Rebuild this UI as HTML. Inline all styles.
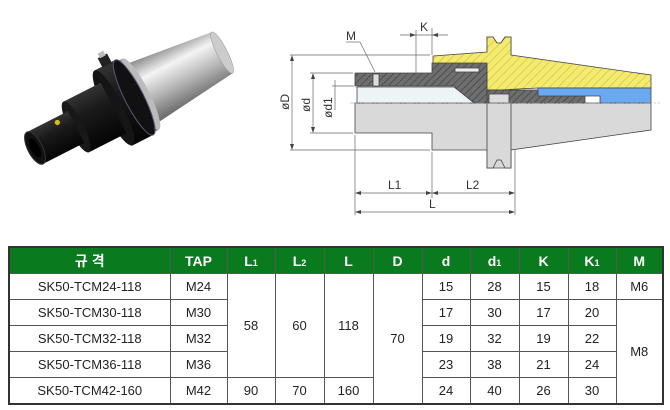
<!DOCTYPE html>
<html><head><meta charset="utf-8"><style>
body{margin:0;background:#fff;width:670px;height:410px;overflow:hidden;font-family:"Liberation Sans","Noto Sans CJK KR",sans-serif;}
svg{position:absolute;left:0;top:0}
table{position:absolute;left:8px;top:246px;border-collapse:collapse;table-layout:fixed;width:654px;font-size:13px;color:#222}
td,th{border:1px solid #555;text-align:center;padding:0;height:25px}
th{background:#0a7a1f;color:#fff;font-weight:bold;height:25px;font-size:14px}
table{border:2px solid #333}
sub{font-size:9px;vertical-align:baseline}
</style></head><body>
<svg width="670" height="240" viewBox="0 0 670 240">
<defs>
<pattern id="h" width="5" height="5" patternUnits="userSpaceOnUse" patternTransform="rotate(45)"><rect width="5" height="5" fill="#6e6e6e"/><line x1="0" y1="0" x2="0" y2="5" stroke="#3a3a3a" stroke-width="1.2"/></pattern>
<pattern id="y" width="6" height="6" patternUnits="userSpaceOnUse" patternTransform="rotate(45)"><rect width="6" height="6" fill="#f3ea6e"/><line x1="0" y1="0" x2="0" y2="6" stroke="#b3a83a" stroke-width="0.8"/></pattern>
<linearGradient id="sv" x1="0" y1="0" x2="0" y2="1"><stop offset="0" stop-color="#888"/><stop offset="0.3" stop-color="#f4f4f4"/><stop offset="0.6" stop-color="#bbb"/><stop offset="1" stop-color="#666"/></linearGradient>
<linearGradient id="bk" x1="0" y1="0" x2="0" y2="1"><stop offset="0" stop-color="#333"/><stop offset="0.35" stop-color="#1a1a1a"/><stop offset="1" stop-color="#050505"/></linearGradient>
</defs>
<g transform="translate(35,148) rotate(-27) scale(1.05)">
<path d="M112,-32 L200,-22 L200,22 L112,32 Z" fill="url(#sv)"/>
<ellipse cx="200" cy="0" rx="5" ry="22" fill="#ccc" stroke="#999" stroke-width="0.5"/>
<rect x="104" y="-38" width="9" height="76" fill="url(#sv)"/>
<ellipse cx="113" cy="0" rx="8" ry="38" fill="#bbb"/>
<rect x="84" y="-40" width="22" height="80" fill="url(#bk)"/>
<ellipse cx="106" cy="0" rx="9" ry="40" fill="#111" stroke="#557" stroke-width="1"/>
<rect x="92" y="-49" width="10" height="10" fill="#222"/>
<rect x="94" y="-53" width="6" height="5" fill="#bbb"/>
<ellipse cx="84" cy="0" rx="9" ry="40" fill="#151515"/>
<rect x="44" y="-27" width="40" height="54" fill="url(#bk)"/>
<ellipse cx="44" cy="0" rx="7" ry="27" fill="#181818"/>
<rect x="0" y="-17" width="44" height="34" fill="url(#bk)"/>
<ellipse cx="0" cy="0" rx="7" ry="17" fill="#111" stroke="#333"/>
<ellipse cx="0" cy="0" rx="4" ry="10" fill="#000"/>
<circle cx="30" cy="-12" r="2.5" fill="#d4c000"/>
</g>
<g stroke="#444" stroke-width="0.8">
<path d="M355,103 L355,133 L432,133 L432,150 L487,150 L487,168 L511,168 L511,150 L651,130 L651,103 Z" fill="#d9d9d9"/>
<path d="M487,103 L487,37 L493,37 L497,43 L501,43 L505,37 L511,37 L511,168 L505,168 L501,160 L497,160 L493,168 L487,168 Z" fill="#d9d9d9"/>
<path d="M433,56 L487,52 L487,37 L493,37 L497,43 L501,43 L505,37 L511,37 L511,55 L651,75 L651,88 L538,88 L500,90 L487,90 L487,68 L433,68 Z" fill="url(#y)"/>
<path d="M355,73 L432,73 L432,63 L440,63 L487,63 L487,103 L475,103 L455,90 L455,86 L355,86 Z" fill="url(#h)"/>
<path d="M487,90 L540,90 L545,93 L560,93 L575,90 L585,90 L585,103 L487,103 Z" fill="url(#h)"/>
<path d="M538,88 L651,88 L651,103 L600,103 L600,96 L538,96 Z" fill="#6aa9ef"/>
<path d="M357,87 L454,87 L474,103 L357,103 Z" fill="#eef3f6"/>
<rect x="489" y="94" width="20" height="9" fill="#ddd"/>
<rect x="373" y="74" width="6" height="12" fill="#ddd"/>
<rect x="455" y="68" width="24" height="4" fill="#eee"/>
</g>
<line x1="350" y1="103" x2="660" y2="103" stroke="#999" stroke-width="0.6" stroke-dasharray="8,2,2,2"/>
<g stroke="#666" stroke-width="0.7" fill="none">
<line x1="290" y1="55" x2="430" y2="55"/><line x1="290" y1="150" x2="430" y2="150"/>
<line x1="292" y1="57" x2="292" y2="148"/>
<line x1="310" y1="73" x2="353" y2="73"/><line x1="310" y1="133" x2="353" y2="133"/>
<line x1="313" y1="75" x2="313" y2="131"/>
<line x1="332" y1="86" x2="354" y2="86"/><line x1="335" y1="80" x2="335" y2="110"/>
<line x1="355" y1="135" x2="355" y2="215"/><line x1="432" y1="152" x2="432" y2="198"/><line x1="432" y1="28" x2="432" y2="55"/><line x1="416" y1="30" x2="416" y2="86"/>
<line x1="515" y1="150" x2="515" y2="215"/>
<line x1="356" y1="193" x2="514" y2="193"/><line x1="356" y1="212" x2="514" y2="212"/>
<line x1="400" y1="35" x2="448" y2="35"/>
<line x1="346" y1="42" x2="360" y2="42"/><line x1="360" y1="42" x2="375" y2="72"/>
</g>
<g fill="#444">
<path d="M292,55 l-2,6 h4z"/><path d="M292,150 l-2,-6 h4z"/>
<path d="M313,73 l-2,6 h4z"/><path d="M313,133 l-2,-6 h4z"/>
<path d="M355,193 l6,-2 v4z"/><path d="M432,193 l-6,-2 v4z"/><path d="M432,193 l6,-2 v4z"/><path d="M515,193 l-6,-2 v4z"/>
<path d="M355,212 l6,-2 v4z"/><path d="M515,212 l-6,-2 v4z"/>
<path d="M416,35 l-6,-2 v4z"/><path d="M432,35 l6,-2 v4z"/>
</g>
<g font-size="12" fill="#333" font-family="Liberation Sans,sans-serif">
<text x="346" y="40">M</text><text x="420" y="31">K</text>
<text x="388" y="189">L1</text><text x="466" y="189">L2</text><text x="429" y="208">L</text>
<text transform="translate(289,110) rotate(-90)">øD</text>
<text transform="translate(310,112) rotate(-90)">ød</text>
<text transform="translate(332,118) rotate(-90)">ød1</text>
</g>
</svg>
<table>
<colgroup><col style="width:161px"><col style="width:57px"><col style="width:48px"><col style="width:49px"><col style="width:49px"><col style="width:49px"><col style="width:48px"><col style="width:49px"><col style="width:49px"><col style="width:48px"><col style="width:47px"></colgroup>
<tr><th>규 격</th><th>TAP</th><th>L<sub>1</sub></th><th>L<sub>2</sub></th><th>L</th><th>D</th><th>d</th><th>d<sub>1</sub></th><th>K</th><th>K<sub>1</sub></th><th>M</th></tr>
<tr><td>SK50-TCM24-118</td><td>M24</td><td rowspan="4">58</td><td rowspan="4">60</td><td rowspan="4">118</td><td rowspan="5">70</td><td>15</td><td>28</td><td>15</td><td>18</td><td>M6</td></tr>
<tr><td>SK50-TCM30-118</td><td>M30</td><td>17</td><td>30</td><td>17</td><td>20</td><td rowspan="4">M8</td></tr>
<tr><td>SK50-TCM32-118</td><td>M32</td><td>19</td><td>32</td><td>19</td><td>22</td></tr>
<tr><td>SK50-TCM36-118</td><td>M36</td><td>23</td><td>38</td><td>21</td><td>24</td></tr>
<tr><td>SK50-TCM42-160</td><td>M42</td><td>90</td><td>70</td><td>160</td><td>24</td><td>40</td><td>26</td><td>30</td></tr>
</table>
</body></html>
